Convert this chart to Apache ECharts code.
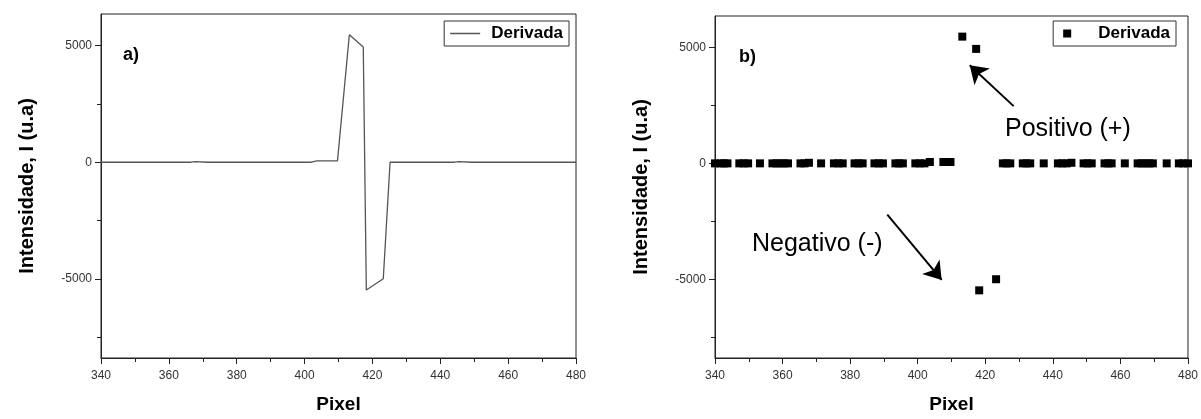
<!DOCTYPE html>
<html>
<head>
<meta charset="utf-8">
<script src="https://cdn.jsdelivr.net/npm/echarts@6/dist/echarts.min.js"></script>
<style>
html,body{margin:0;padding:0;background:#fff;}
#wrap{position:relative;width:1201px;height:419px;}
#ca{position:absolute;left:0;top:0;width:600px;height:419px;}
#cb{position:absolute;left:600px;top:0;width:601px;height:419px;}
</style>
</head>
<body>
<div id="wrap"><div id="ca"></div><div id="cb"></div></div>
<script>
// ---- data ----
const pixel = [340, 341.7, 342.7, 343.7, 347.2, 348.5, 349.8, 353.3, 357.0, 358.2, 359.3, 360.5, 361.6,
  365.3, 366.5, 367.8, 371.4, 375.2, 376.5, 377.8, 381.3, 382.5, 383.7, 387.2, 388.5, 389.7,
  393.4, 394.5, 395.6, 399.3, 400.6, 402.0, 403.6, 407.6, 408.7, 409.7, 413.2, 417.3, 418.2, 423.2,
  425.2, 426.3, 427.4, 431.1, 432.2, 433.3, 437.3, 441.5, 442.8, 444.1, 445.5, 449.1, 450.3, 451.5,
  455.3, 456.4, 457.4, 461.3, 465.1, 466.3, 467.4, 468.5, 469.6, 473.7, 477.3, 478.6, 480];
const derivada = [0, 0, 0, 0, 0, 0, 0, 0, 0, 0, 0, 0, 0,
  0, 0, 25, 0, 0, 0, 0, 0, 0, 0, 0, 0, 0,
  0, 0, 0, 0, 0, 0, 60, 60, 60, 60, 5470, 4940, -5480, -5000,
  0, 0, 0, 0, 0, 0, 0, 0, 0, 0, 25, 0, 0, 0,
  0, 0, 0, 0, 0, 0, 0, 0, 0, 0, 0, 0, 0];
const xTicks = [340, 360, 380, 400, 420, 440, 460, 480];
const yMajorTicks = [-5000, 0, 5000];
const yMinorTicks = [-7500, -2500, 2500];
const seriesName = 'Derivada';
const yTitle = 'Intensidade, I (u.a)';
const xTitle = 'Pixel';
// annotation arrows (data coords): [tail, head]
const arrowPos = [[428.4, 2470], [415.4, 4230]];
const arrowNeg = [[391.0, -2210], [407.1, -5030]];

const FONT = '"Liberation Sans", Arial, sans-serif';
const AX = '#222';
const pts = pixel.map((x, i) => [x, derivada[i]]);

function baseOption(gridLeft, gridTop, gridH, panelLabel, legendRight, legendIcon, legendW, legendH, legendColor, padL, textPadL) {
  return {
    animation: false,
    textStyle: { fontFamily: FONT },
    grid: { left: gridLeft, top: gridTop, width: 475, height: gridH, show: true,
            borderColor: AX, borderWidth: 1, backgroundColor: 'transparent' },
    legend: {
      data: [{ name: seriesName, icon: legendIcon }],
      right: legendRight, top: 21,
      itemWidth: legendW, itemHeight: legendH, itemGap: 10,
      borderColor: '#333', borderWidth: 1, padding: [4, 6, 4, padL],
      itemStyle: { color: legendColor, borderWidth: 0, opacity: 1 },
      lineStyle: { color: legendColor },
      textStyle: { fontFamily: FONT, fontWeight: 'bold', fontSize: 17, color: '#000', padding: [0, 0, 0, textPadL] },
      selectedMode: false
    },
    xAxis: {
      type: 'value', min: xTicks[0], max: xTicks[xTicks.length - 1], interval: 20,
      name: xTitle, nameLocation: 'middle', nameGap: 37,
      nameTextStyle: { fontFamily: FONT, fontWeight: 'bold', fontSize: 19, color: '#000' },
      axisLine: { show: true, onZero: false, lineStyle: { color: AX, width: 1 } },
      axisTick: { show: true, inside: false, length: 6, lineStyle: { color: AX } },
      minorTick: { show: true, splitNumber: 2, length: 4, lineStyle: { color: AX } },
      axisLabel: { fontFamily: FONT, fontSize: 12, color: '#333', margin: 12, formatter: v => String(v) },
      splitLine: { show: false }, minorSplitLine: { show: false }
    },
    yAxis: [{
      type: 'value', min: -8400, max: 6360,
      name: yTitle, nameLocation: 'middle', nameGap: 64, nameRotate: 90,
      nameTextStyle: { fontFamily: FONT, fontWeight: 'bold', fontSize: 20, color: '#000' },
      axisLine: { show: true, onZero: false, lineStyle: { color: AX, width: 1 } },
      axisTick: { show: true, inside: false, length: 6, customValues: yMajorTicks, lineStyle: { color: AX } },
      axisLabel: { fontFamily: FONT, fontSize: 12, color: '#333', margin: 9, customValues: yMajorTicks, formatter: v => String(v) },
      splitLine: { show: false }
    }, {
      type: 'value', min: -8400, max: 6360, position: 'left',
      axisLine: { show: false },
      axisTick: { show: true, inside: false, length: 4, customValues: yMinorTicks, lineStyle: { color: AX } },
      axisLabel: { show: false },
      splitLine: { show: false }
    }],
    graphic: [{
      type: 'text', left: panelLabel.x, top: panelLabel.y,
      style: { text: panelLabel.t, font: 'bold 18px ' + FONT, fill: '#000' }
    }]
  };
}

// ---- chart a ----
const ca = echarts.init(document.getElementById('ca'), null, { renderer: 'canvas' });
const optA = baseOption(101, 14, 349, { x: 123, y: 46, t: 'a)' }, 31, 'rect', 30, 1.5, '#555', 6, 6);
optA.series = [{
  name: seriesName, type: 'line', data: pts, showSymbol: false, symbol: 'none',
  lineStyle: { color: '#555', width: 1.3 }, itemStyle: { color: '#555' }, clip: true
}];
ca.setOption(optA);

// ---- chart b ----
const cb = echarts.init(document.getElementById('cb'), null, { renderer: 'canvas' });
const optB = baseOption(115, 16, 350, { x: 139, y: 48, t: 'b)' }, 25, 'rect', 8, 8, '#000', 10, 22);
optB.series = [{
  name: seriesName, type: 'scatter', data: pts, symbol: 'rect', symbolSize: [8, 8],
  itemStyle: { color: '#000', opacity: 1 }, clip: true,
  markLine: {
    silent: true, animation: false,
    symbol: ['none', 'arrow'], symbolSize: 17,
    label: { show: false },
    lineStyle: { color: '#000', width: 2, type: 'solid', opacity: 1 },
    itemStyle: { color: '#000', opacity: 1 },
    data: [
      [{ coord: arrowPos[0] }, { coord: arrowPos[1] }],
      [{ coord: arrowNeg[0] }, { coord: arrowNeg[1] }]
    ]
  }
}];
optB.graphic.push(
  { type: 'text', left: 405, top: 117, style: { text: 'Positivo (+)', font: '25px ' + FONT, fill: '#000' } },
  { type: 'text', left: 152, top: 232, style: { text: 'Negativo (-)', font: '25px ' + FONT, fill: '#000' } }
);
cb.setOption(optB);
</script>
</body>
</html>
